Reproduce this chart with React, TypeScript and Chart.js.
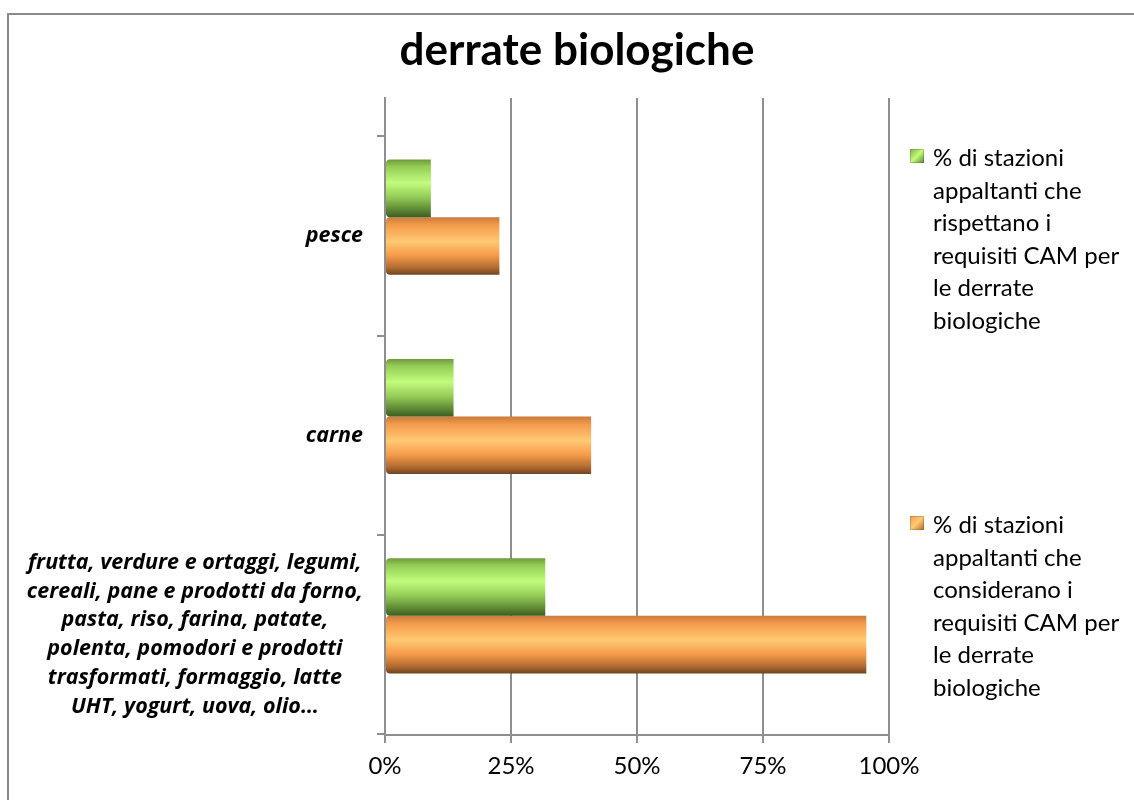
import React, { useEffect, useRef } from "react";
import { Chart, registerables } from "chart.js";

Chart.register(...registerables);

const FONT = "Lato, 'Open Sans', 'Noto Sans', sans-serif";
const LABEL_FONT = "'Open Sans', Lato, 'Noto Sans', sans-serif";

const titleText = "derrate biologiche";

const categories: string[][] = [
  ["pesce"],
  ["carne"],
  [
    "frutta, verdure e ortaggi, legumi,",
    "cereali, pane e prodotti da forno,",
    "pasta, riso, farina, patate,",
    "polenta, pomodori e prodotti",
    "trasformati, formaggio, latte",
    "UHT, yogurt, uova, olio…",
  ],
];

const seriesRispettanoLabel = [
  "% di stazioni",
  "appaltanti che",
  "rispettano i",
  "requisiti CAM per",
  "le derrate",
  "biologiche",
];
const seriesConsideranoLabel = [
  "% di stazioni",
  "appaltanti che",
  "considerano i",
  "requisiti CAM per",
  "le derrate",
  "biologiche",
];

const rispettano = [9.1, 13.6, 31.8];
const considerano = [22.7, 40.9, 95.5];

const xTicks = [0, 25, 50, 75, 100];

const greenStops: [number, string][] = [
  [0, "#6f9a3c"],
  [0.12, "#93cc55"],
  [0.4, "#c2fc7c"],
  [0.65, "#95cc58"],
  [0.88, "#5a8532"],
  [1, "#3e5c22"],
];
const orangeStops: [number, string][] = [
  [0, "#c97a3c"],
  [0.14, "#f49c4c"],
  [0.42, "#ffc972"],
  [0.66, "#f69c4b"],
  [0.88, "#b06a30"],
  [1, "#6e4420"],
];

const CAT_PCT = 0.578;
const GRID = "#8e8e8e";

function makeGrad(stops: [number, string][]) {
  return (ctx: any) => {
    const chart = ctx.chart;
    const ys = chart.scales && chart.scales.y2;
    if (!ys || ctx.type !== "data" || !chart.chartArea) return stops[2][1];
    const step = Math.abs(ys.getPixelForValue(1) - ys.getPixelForValue(0));
    const size = step * CAT_PCT;
    const chunk = size / 2;
    const top = ys.getPixelForValue(ctx.dataIndex) - size / 2 + ctx.datasetIndex * chunk;
    const g = chart.ctx.createLinearGradient(0, top, 0, top + chunk);
    stops.forEach(([o, c]) => g.addColorStop(o, c));
    return g;
  };
}

const catLabelPlugin = {
  id: "catLabels",
  afterDraw(chart: any) {
    const ctx = chart.ctx;
    const ys = chart.scales.y;
    const LH = 28.8;
    ctx.save();
    ctx.font = `italic bold 21.5px ${LABEL_FONT}`;
    ctx.fillStyle = "#000";
    ctx.textAlign = "center";
    ctx.textBaseline = "middle";
    const right = chart.chartArea.left - 22;
    categories.forEach((lines, i) => {
      const w = Math.max(...lines.map((l) => ctx.measureText(l).width));
      const cx = right - w / 2;
      const cy = ys.getPixelForValue(i);
      lines.forEach((l, j) => {
        ctx.fillText(l, cx, cy + (j - (lines.length - 1) / 2) * LH);
      });
    });
    ctx.restore();
  },
};

function LegendItem({ top, lines, grad }: { top: number; lines: string[]; grad: string }) {
  return (
    <div style={{ position: "absolute", left: 910, top, width: 224 }}>
      <div
        style={{
          position: "absolute",
          left: 0,
          top: 8,
          width: 14,
          height: 14,
          background: grad,
          boxShadow: "inset 0 0 0 1px rgba(0,0,0,0.15)",
        }}
      />
      <div
        style={{
          position: "absolute",
          left: 23,
          top: 0,
          fontFamily: FONT,
          fontSize: 24,
          lineHeight: "32.5px",
          color: "#000",
          whiteSpace: "nowrap",
        }}
      >
        {lines.map((l, i) => (
          <div key={i}>{l}</div>
        ))}
      </div>
    </div>
  );
}

export default function App() {
  const ref = useRef<HTMLCanvasElement | null>(null);

  useEffect(() => {
    if (!ref.current) return;
    const chart = new Chart(ref.current, {
      type: "bar",
      data: {
        labels: categories.map((c) => c.join(" ")),
        datasets: [
          {
            label: seriesRispettanoLabel.join(" "),
            data: rispettano.map((v, i) => ({ x: v, y: i })),
            xAxisID: "x",
            yAxisID: "y2",
            backgroundColor: makeGrad(greenStops) as any,
            borderWidth: 0,
            borderSkipped: false,
            borderRadius: { topLeft: 4, bottomLeft: 4, topRight: 0, bottomRight: 0 },
            categoryPercentage: CAT_PCT,
            barPercentage: 1,
          },
          {
            label: seriesConsideranoLabel.join(" "),
            data: considerano.map((v, i) => ({ x: v, y: i })),
            xAxisID: "x",
            yAxisID: "y2",
            backgroundColor: makeGrad(orangeStops) as any,
            borderWidth: 0,
            borderSkipped: false,
            borderRadius: { topLeft: 4, bottomLeft: 4, topRight: 0, bottomRight: 0 },
            categoryPercentage: CAT_PCT,
            barPercentage: 1,
          },
        ],
      } as any,
      options: {
        indexAxis: "y",
        animation: false,
        responsive: false,
        devicePixelRatio: 1,
        layout: { padding: { left: 20, right: 245, top: 98, bottom: 0 } },
        plugins: {
          legend: { display: false },
          tooltip: { enabled: false },
          title: { display: false },
        },
        scales: {
          x: {
            type: "linear",
            position: "bottom",
            min: 0,
            max: 100,
            offset: false,
            afterBuildTicks: (s: any) => {
              s.ticks = xTicks.map((v) => ({ value: v }));
            },
            afterFit: (s: any) => {
              s.height = 65;
            },
            ticks: {
              callback: (v: any) => `${v}%`,
              color: "#000",
              font: { family: FONT, size: 24 },
              padding: 9,
              maxRotation: 0,
            },
            grid: { color: GRID, lineWidth: 2, tickLength: 8 },
            border: { color: GRID, width: 2 },
          },
          y: {
            type: "linear",
            position: "left",
            reverse: true,
            min: -0.693,
            max: 2.503,
            offset: false,
            afterBuildTicks: (s: any) => {
              s.ticks = categories.map((_, i) => ({ value: i }));
            },
            afterFit: (s: any) => {
              s.width = 365;
            },
            ticks: { display: false },
            grid: {
              offset: true,
              drawOnChartArea: false,
              drawTicks: true,
              tickLength: 8,
              color: GRID,
              lineWidth: 2,
            },
            border: { display: true, color: GRID, width: 2 },
          },
          y2: {
            type: "linear",
            display: false,
            reverse: true,
            min: -0.598,
            max: 2.598,
            offset: false,
            afterBuildTicks: (s: any) => {
              s.ticks = categories.map((_, i) => ({ value: i }));
            },
          },
        },
      } as any,
      plugins: [catLabelPlugin],
    });
    return () => chart.destroy();
  }, []);

  return (
    <div
      style={{
        position: "fixed",
        left: 0,
        top: 0,
        width: 1134,
        height: 800,
        background: "#fff",
        overflow: "hidden",
      }}
    >
      <div
        style={{
          position: "absolute",
          left: 7,
          top: 13,
          width: 1300,
          height: 1000,
          borderLeft: "2px solid #8a8a8a",
          borderTop: "2px solid #8a8a8a",
        }}
      />
      <canvas
        ref={ref}
        width={1134}
        height={800}
        style={{ position: "absolute", left: 0, top: 0, width: 1134, height: 800 }}
      />
      <div
        style={{
          position: "absolute",
          left: 0,
          top: 22,
          width: 1154,
          textAlign: "center",
          fontFamily: FONT,
          fontWeight: "bold",
          fontSize: 44,
          lineHeight: "53px",
          color: "#000",
        }}
      >
        {titleText}
      </div>
      <LegendItem
        top={141}
        lines={seriesRispettanoLabel}
        grad="linear-gradient(135deg, #7fb045 0%, #c2fc7c 50%, #5a8532 100%)"
      />
      <LegendItem
        top={508}
        lines={seriesConsideranoLabel}
        grad="linear-gradient(135deg, #f49c4c 0%, #ffc972 50%, #b06a30 100%)"
      />
    </div>
  );
}
